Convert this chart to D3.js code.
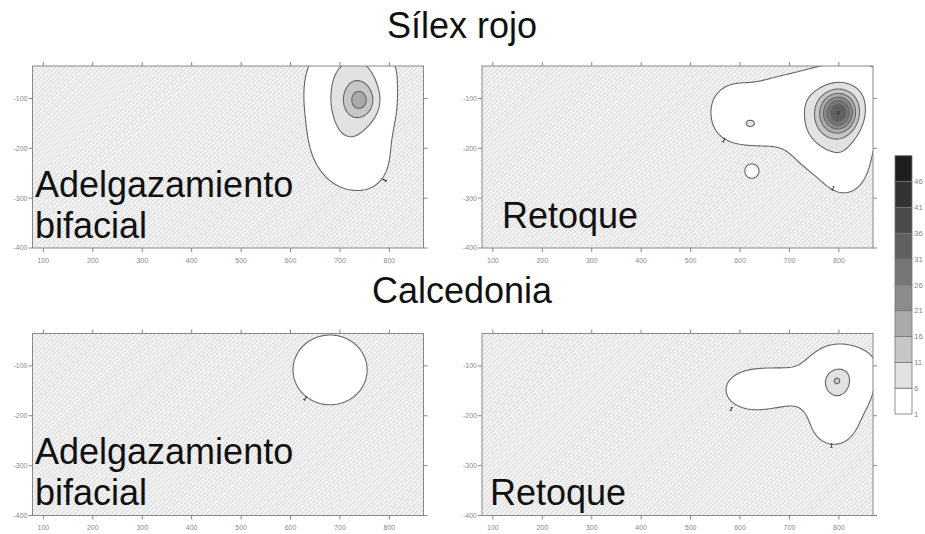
<!DOCTYPE html>
<html>
<head>
<meta charset="utf-8">
<script src="https://cdn.jsdelivr.net/npm/d3@7"></script>
<style>
  body { margin: 0; background: #fff; }
  svg { display: block; font-family: "Liberation Sans", Arial, sans-serif; }
</style>
</head>
<body>
<svg id="chart" width="925" height="534"></svg>
<script>
// Contour levels (count of pieces) and their band fills, lightest to darkest
const levels = [1, 6, 11, 16, 21, 26, 31, 36, 41, 46];
const bandFills = ["#ffffff", "#e2e2e2", "#c6c6c6", "#aaaaaa", "#8c8c8c",
                   "#767676", "#606060", "#4a4a4a", "#333333", "#1e1e1e"];

// Map extent (site grid coordinates)
const xExtent = [78, 869];
const yExtent = [-400, -35];
const xTicks = [100, 200, 300, 400, 500, 600, 700, 800];
const yTicks = [-100, -200, -300, -400];

// Concentrations of finds per class: [x, y, peak count, spread x, spread y]
const silexBifacial = [
  [742, -104, 10, 22, 24],
  [728, -92, 7, 42, 65],
  [735, -45, 1.5, 40, 25],
  [715, -150, 2, 48, 90],
  [700, -185, 1.1, 38, 45],
  [760, -230, 1.15, 30, 36],
  [660, -80, 0.7, 25, 40]
];
const silexRetoque = [
  [800, -128, 28, 24, 26],
  [782, -148, 9, 45, 50],
  [845, -85, 2.6, 45, 35],
  [700, -95, 2.2, 60, 30],
  [585, -125, 2.0, 35, 38],
  [650, -165, 1.8, 50, 25],
  [812, -235, 2.4, 30, 38],
  [621, -150, 5.5, 9, 7],
  [624, -246, 2.0, 12, 12]
];
const calcBifacial = [
  [680, -108, 4, 45, 42]
];
const calcRetoque = [
  [796, -130, 5, 8, 8],
  [798, -132, 7, 37, 38],
  [625, -148, 2.0, 45, 32],
  [700, -140, 1.4, 40, 30],
  [790, -215, 2.0, 35, 35],
  [840, -95, 1.0, 28, 20]
];

// Positions of the value labels on the outermost isoline
const silexBifacialLabels = [[790, -264]];
const silexRetoqueLabels = [[567, -184], [788, -280]];
const calcBifacialLabels = [[630, -165]];
const calcRetoqueLabels = [[582, -186], [785, -260]];

const groupTitles = ["Sílex rojo", "Calcedonia"];

const svg = d3.select("#chart");
const defs = svg.append("defs");

// Diagonal hatching for the area outside the lowest contour
const hatch = defs.append("pattern")
  .attr("id", "hatch").attr("patternUnits", "userSpaceOnUse")
  .attr("width", 3.2).attr("height", 3.2)
  .attr("patternTransform", "rotate(45)");
hatch.append("rect").attr("width", 3.2).attr("height", 3.2).attr("fill", "#f4f4f4");
hatch.append("line").attr("x1", 0.5).attr("y1", 0).attr("x2", 0.5).attr("y2", 3.2)
  .attr("stroke", "#d9d9d9").attr("stroke-width", 1);

const panels = [
  { id: "p1", hot: silexBifacial, marks: silexBifacialLabels, text: ["Adelgazamiento", "bifacial"],
    left: 32.5, top: 66, tx: 35, ty: [197, 238] },
  { id: "p2", hot: silexRetoque, marks: silexRetoqueLabels, text: ["Retoque"],
    left: 482, top: 66, tx: 502, ty: [228] },
  { id: "p3", hot: calcBifacial, marks: calcBifacialLabels, text: ["Adelgazamiento", "bifacial"],
    left: 32.5, top: 333.5, tx: 35, ty: [464, 504.5] },
  { id: "p4", hot: calcRetoque, marks: calcRetoqueLabels, text: ["Retoque"],
    left: 482, top: 333.5, tx: 490, ty: [505] }
];
const W = 391, H = 182;

function field(hot, x, y) {
  let v = 0;
  for (const [cx, cy, a, sx, sy] of hot) {
    const dx = (x - cx) / sx, dy = (y - cy) / sy;
    v += a * Math.exp(-0.5 * (dx * dx + dy * dy));
  }
  return v;
}

const step = 3;
panels.forEach(p => {
  const x = d3.scaleLinear().domain(xExtent).range([p.left, p.left + W]);
  const y = d3.scaleLinear().domain(yExtent).range([p.top + H, p.top]);

  const g = svg.append("g");
  const clipId = "clip-" + p.id;
  defs.append("clipPath").attr("id", clipId)
    .append("rect").attr("x", p.left).attr("y", p.top).attr("width", W).attr("height", H);

  g.append("rect").attr("x", p.left).attr("y", p.top).attr("width", W).attr("height", H)
    .attr("fill", "url(#hatch)");

  // sample the density surface on a regular grid a little larger than the map
  const gx0 = xExtent[0] - 2 * step, gyTop = yExtent[1] + 2 * step;
  const nx = Math.ceil((xExtent[1] - xExtent[0]) / step) + 5;
  const ny = Math.ceil((yExtent[1] - yExtent[0]) / step) + 5;
  const values = new Array(nx * ny);
  for (let j = 0; j < ny; j++) {
    for (let i = 0; i < nx; i++) {
      values[i + j * nx] = field(p.hot, gx0 + i * step, gyTop - j * step);
    }
  }
  const contours = d3.contours().size([nx, ny]).thresholds(levels)(values);
  const proj = d3.geoTransform({
    point(px, py) {
      this.stream.point(x(gx0 + (px - 0.5) * step), y(gyTop - (py - 0.5) * step));
    }
  });
  const path = d3.geoPath(proj);

  g.append("g").attr("clip-path", `url(#${clipId})`)
    .selectAll("path").data(contours).join("path")
    .attr("d", path)
    .attr("fill", (d, i) => bandFills[i])
    .attr("stroke", "#666").attr("stroke-width", 1.1)
    .attr("stroke-linejoin", "round");

  // isoline value labels, turned along the line
  g.selectAll("text.lab").data(p.marks).join("text").attr("class", "lab")
    .attr("transform", d => {
      const e = 1;
      const gxv = field(p.hot, d[0] + e, d[1]) - field(p.hot, d[0] - e, d[1]);
      const gyv = field(p.hot, d[0], d[1] + e) - field(p.hot, d[0], d[1] - e);
      const ang = Math.atan2(-gyv, gxv) * 180 / Math.PI + 90;
      return `translate(${x(d[0])},${y(d[1])}) rotate(${ang})`;
    })
    .attr("text-anchor", "middle").attr("dy", "0.35em")
    .attr("font-size", 6).attr("font-weight", "bold").attr("fill", "#111")
    .text("1");

  // frame and outward ticks on all sides
  g.append("rect").attr("x", p.left).attr("y", p.top).attr("width", W).attr("height", H)
    .attr("fill", "none").attr("stroke", "#888").attr("stroke-width", 1);
  const tick = g.append("g").attr("stroke", "#888").attr("stroke-width", 1);
  xTicks.forEach(t => {
    tick.append("line").attr("x1", x(t)).attr("x2", x(t)).attr("y1", p.top).attr("y2", p.top - 4);
    tick.append("line").attr("x1", x(t)).attr("x2", x(t)).attr("y1", p.top + H).attr("y2", p.top + H + 4);
  });
  yTicks.forEach(t => {
    tick.append("line").attr("y1", y(t)).attr("y2", y(t)).attr("x1", p.left).attr("x2", p.left - 4);
    tick.append("line").attr("y1", y(t)).attr("y2", y(t)).attr("x1", p.left + W).attr("x2", p.left + W + 4);
  });
  g.selectAll("text.xt").data(xTicks).join("text").attr("class", "xt")
    .attr("x", x).attr("y", p.top + H + 14.5)
    .attr("text-anchor", "middle").attr("font-size", 7).attr("fill", "#8a8a8a")
    .text(d => d);
  g.selectAll("text.yt").data(yTicks).join("text").attr("class", "yt")
    .attr("x", p.left - 5).attr("y", y).attr("dy", "0.35em")
    .attr("text-anchor", "end").attr("font-size", 7).attr("fill", "#8a8a8a")
    .text(d => d);

  // panel caption
  p.text.forEach((t, k) => {
    g.append("text").attr("x", p.tx).attr("y", p.ty[k])
      .attr("font-size", 36).attr("fill", "#111").text(t);
  });
});

// group titles
svg.append("text").attr("x", 462).attr("y", 38).attr("text-anchor", "middle")
  .attr("font-size", 36).attr("fill", "#111").text(groupTitles[0]);
svg.append("text").attr("x", 462).attr("y", 303).attr("text-anchor", "middle")
  .attr("font-size", 36).attr("fill", "#111").text(groupTitles[1]);

// colour key
const ky = d3.scaleLinear().domain([1, 51]).range([414, 155.7]);
const key = svg.append("g");
key.selectAll("rect").data(levels).join("rect")
  .attr("x", 895).attr("width", 17)
  .attr("y", d => ky(d + 5)).attr("height", d => ky(d) - ky(d + 5))
  .attr("fill", (d, i) => bandFills[i]).attr("stroke", "#777").attr("stroke-width", 0.8);
key.selectAll("text").data(levels).join("text")
  .attr("x", 914).attr("y", d => ky(d)).attr("dy", "0.35em")
  .attr("font-size", 8).attr("fill", "#888").text(d => d);
</script>
</body>
</html>
